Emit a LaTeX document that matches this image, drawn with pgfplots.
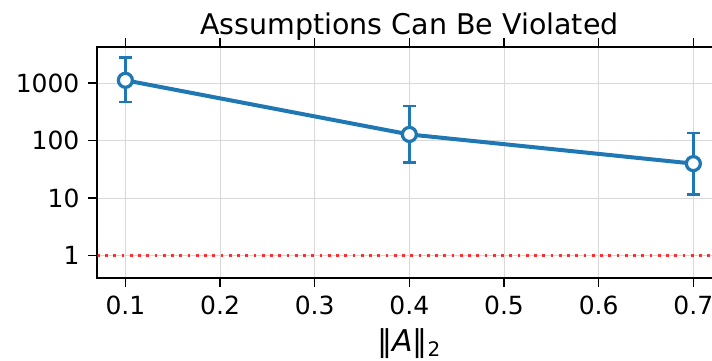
\documentclass[border=0pt]{standalone}
\usepackage{fontspec}
\setmainfont{DejaVu Sans}
\usepackage{pgfplots}
\pgfplotsset{compat=1.18}
\definecolor{mplblue}{HTML}{1F77B4}
\begin{document}
\begin{tikzpicture}
\begin{axis}[
  name=ax,
  at={(0,0)}, anchor=south west,
  width=249.9pt, height=92.4pt, scale only axis,
  ymode=log, log basis y=10,
  xmin=0.07, xmax=0.73,
  ymin=0.408, ymax=4246,
  enlargelimits=false,
  xtick={0.1,0.2,0.3,0.4,0.5,0.6,0.7},
  xticklabels={0.1,0.2,0.3,0.4,0.5,0.6,0.7},
  ytick={1,10,100,1000},
  yticklabels={1,10,100,1000},
  minor y tick style={draw=none},
  minor ytick={},
  tick align=outside,
  tick style={black, line width=0.5pt},
  major tick length=3.5pt,
  grid=major,
  major grid style={line width=0.4pt, color=black!15},
  axis line style={line width=0.6pt},
  tick label style={font=\fontsize{10}{12}\selectfont},
  /pgf/number format/assume math mode=true,
  xlabel={‖\textit{A}‖\textsubscript{2}},
  xlabel style={font=\fontsize{12}{14}\selectfont, at={(0.5,0)}, anchor=base, yshift=-29.6pt},
  title={Assumptions Can Be Violated},
  title style={font=\fontsize{11.4}{14}\selectfont, at={(0.5,1)}, anchor=base, yshift=-1.2pt},
]
\addplot[red, opacity=0.8, line width=1.1pt, dash pattern=on 1.1pt off 2.2pt, forget plot]
  coordinates {(0.07,1) (0.73,1)};
% error bars first (below markers)
\addplot[draw=none, mark=none, forget plot,
  error bars/.cd, y dir=both, y explicit,
  error bar style={line width=1.1pt, mplblue},
  error mark options={rotate=90, mark size=2.5pt, line width=1.1pt, mplblue}]
  coordinates {
    (0.1,1119) += (0,1657) -= (0,650)
    (0.4,128) += (0,272) -= (0,86.6)
    (0.7,39.8) += (0,95.8) -= (0,28.2)
  };
% line with open markers on top
\addplot[mplblue, line width=1.6pt,
  mark=*, mark size=2.8pt,
  mark options={solid, fill=white, draw=mplblue, line width=1.3pt}]
  coordinates {
    (0.1,1119)
    (0.4,128)
    (0.7,39.8)
  };
\end{axis}
\pgfresetboundingbox
\useasboundingbox (-38.8pt,-33.2pt) rectangle (246pt,111.2pt);
\end{tikzpicture}
\end{document}
